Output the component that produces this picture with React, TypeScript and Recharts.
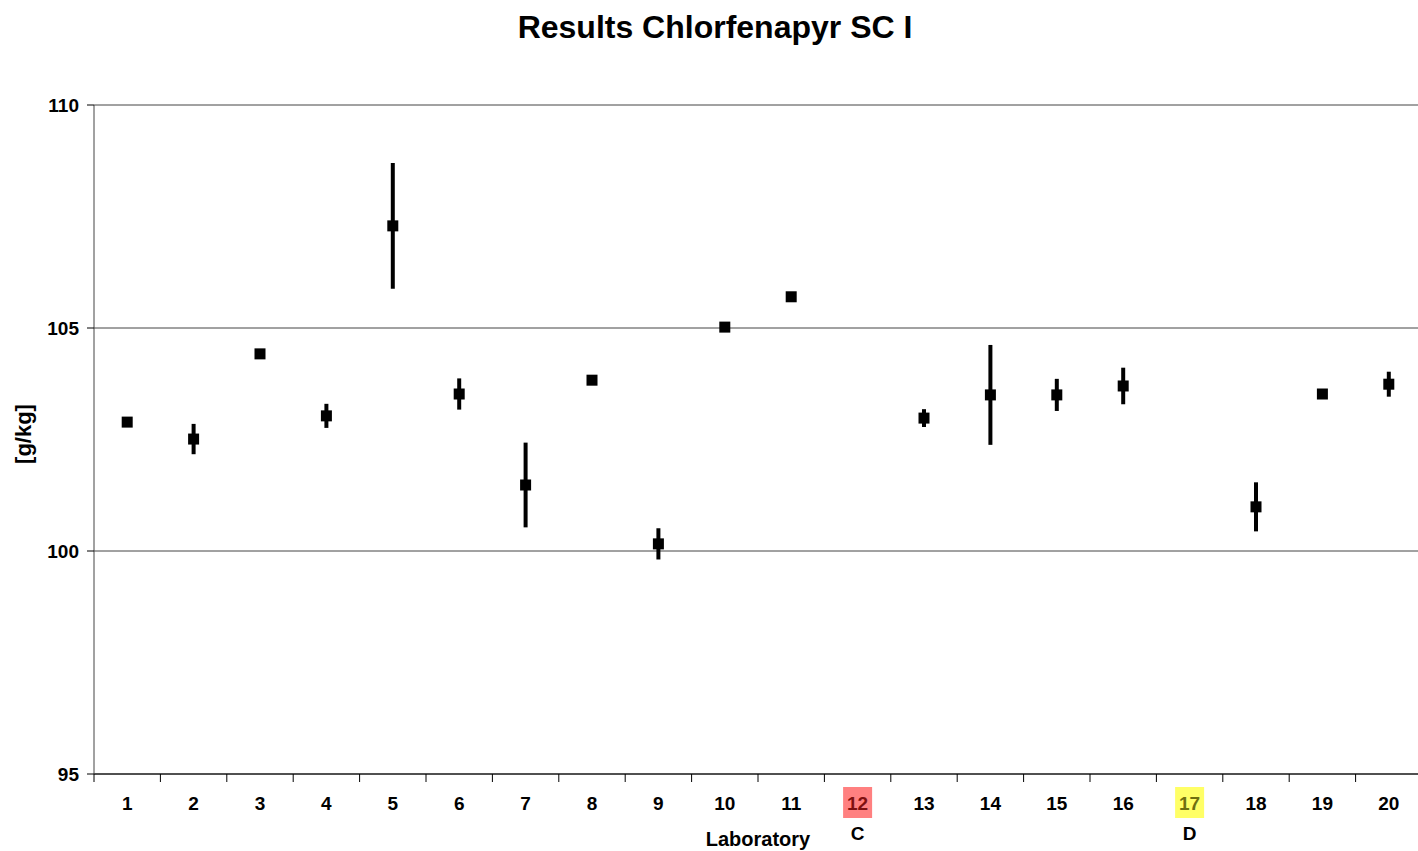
import React from 'react'
import { ComposedChart, Line, XAxis, YAxis, CartesianGrid, ErrorBar } from 'recharts'

// laboratory numbers, mean result (g/kg) and half-range of replicates
const labs = [1, 2, 3, 4, 5, 6, 7, 8, 9, 10, 11, 12, 13, 14, 15, 16, 17, 18, 19, 20]
const means = [102.89, 102.51, 104.42, 103.03, 107.29, 103.52, 101.48, 103.83, 100.16, 105.02,
  105.70, null, 102.98, 103.50, 103.50, 103.70, null, 100.99, 103.52, 103.74]
const spreads = [0, 0.34, 0, 0.27, 1.41, 0.35, 0.95, 0, 0.35, 0,
  0, null, 0.2, 1.12, 0.36, 0.41, null, 0.55, 0, 0.28]

// labs flagged on the axis: note letter and highlight colours
const flaggedLabs = [12, 17]
const flagNotes = ['C', 'D']
const flagFills = ['#ff8080', '#ffff66']
const flagTextColors = ['#7f1010', '#6f6f10']

const yTicks = [95, 100, 105, 110]

const data = labs.map((lab, i) => ({ lab, value: means[i], err: spreads[i] }))
const xTicks = [...labs.map(l => l - 0.5), labs[labs.length - 1] + 0.5, ...labs]

const FONT = '"Liberation Sans", Arial, sans-serif'

const LabTick = (props: any) => {
  const { x, y, payload } = props
  const v = payload.value
  if (!Number.isInteger(v)) {
    return <line x1={x} x2={x} y1={y} y2={y + 8} stroke="#000" strokeWidth={1} />
  }
  const fi = flaggedLabs.indexOf(v)
  return (
    <g>
      {fi >= 0 && <rect x={x - 14.5} y={y + 13} width={29} height={31} fill={flagFills[fi]} />}
      <text x={x} y={y + 29} textAnchor="middle" dominantBaseline="central"
        fontFamily={FONT} fontWeight="bold" fontSize={19} fill={fi >= 0 ? flagTextColors[fi] : '#000'}>
        {v}
      </text>
      {fi >= 0 && (
        <text x={x} y={y + 59} textAnchor="middle" dominantBaseline="central"
          fontFamily={FONT} fontWeight="bold" fontSize={19} fill="#000">
          {flagNotes[fi]}
        </text>
      )}
    </g>
  )
}

const SquareDot = (props: any) => {
  const { cx, cy, index } = props
  if (cx == null || cy == null || isNaN(cy)) return <g key={index} />
  return <rect key={index} x={cx - 5.5} y={cy - 5.5} width={11} height={11} fill="#000" />
}

export default function App() {
  return (
    <div style={{ position: 'absolute', left: 0, top: 0, width: 1418, height: 851, overflow: 'hidden', background: '#fff', fontFamily: FONT }}>
      <div style={{ position: 'absolute', left: 715, top: 27, transform: 'translate(-50%, -50%)', fontSize: 32, fontWeight: 'bold', whiteSpace: 'nowrap' }}>
        Results Chlorfenapyr SC I
      </div>
      <div style={{ position: 'absolute', left: 24, top: 434, transform: 'translate(-50%, -50%) rotate(-90deg)', fontSize: 22, fontWeight: 'bold', whiteSpace: 'nowrap' }}>
        [g/kg]
      </div>
      <div style={{ position: 'absolute', left: 758, top: 839, transform: 'translate(-50%, -50%)', fontSize: 20, fontWeight: 'bold', whiteSpace: 'nowrap' }}>
        Laboratory
      </div>
      <ComposedChart width={1422} height={851} data={data} margin={{ top: 105, right: 0, left: 0, bottom: 0 }}>
        <CartesianGrid vertical={false} stroke="#444" strokeWidth={1} />
        <XAxis dataKey="lab" type="number" domain={[0.5, 20.5]} ticks={xTicks} interval={0}
          tickLine={false} tickSize={0} tickMargin={0} height={77}
          axisLine={{ stroke: '#000', strokeWidth: 1 }} tick={<LabTick />} />
        <YAxis type="number" domain={[95, 110]} ticks={yTicks} width={94} tickSize={7} tickMargin={8}
          axisLine={{ stroke: '#444' }} tickLine={{ stroke: '#000' }}
          tick={{ fontFamily: FONT, fontWeight: 'bold', fontSize: 19, fill: '#000' }} />
        <Line dataKey="value" stroke="none" isAnimationActive={false} dot={SquareDot} activeDot={false}>
          <ErrorBar dataKey="err" direction="y" width={0} stroke="#000" strokeWidth={4} />
        </Line>
      </ComposedChart>
    </div>
  )
}
